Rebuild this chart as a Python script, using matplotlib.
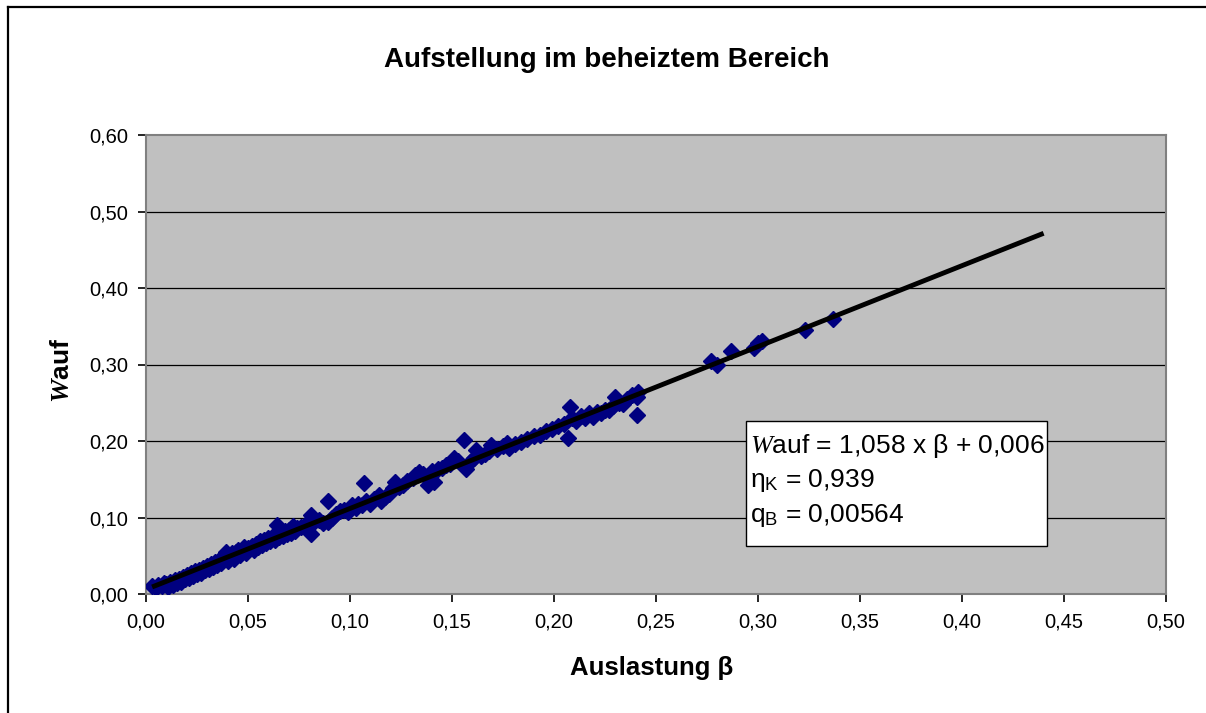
import numpy as np
import matplotlib
matplotlib.use("Agg")
import matplotlib.pyplot as plt
from matplotlib.lines import Line2D
from matplotlib.patches import Rectangle
from matplotlib.ticker import FuncFormatter

plt.rcParams['font.family'] = ['Liberation Sans', 'DejaVu Sans']
plt.rcParams['mathtext.fontset'] = 'custom'
plt.rcParams['mathtext.rm'] = 'Liberation Sans'
plt.rcParams['mathtext.it'] = 'Liberation Serif:italic'
plt.rcParams['mathtext.bf'] = 'Liberation Sans:bold'
plt.rcParams['mathtext.bfit'] = 'Liberation Serif:italic:bold'

# measured points: Auslastung beta vs. W_auf
beta = [0.003, 0.005, 0.006, 0.008, 0.009, 0.010, 0.011, 0.012, 0.013, 0.014,
        0.015, 0.016, 0.017, 0.018, 0.019, 0.020, 0.021, 0.022, 0.023, 0.024,
        0.025, 0.026, 0.027, 0.028, 0.029, 0.030, 0.031, 0.032, 0.033, 0.034,
        0.035, 0.036, 0.037, 0.038, 0.039, 0.040, 0.041, 0.042, 0.043, 0.044,
        0.045, 0.046, 0.047, 0.048, 0.049, 0.050, 0.052, 0.053, 0.054, 0.055,
        0.056, 0.057, 0.058, 0.059, 0.060, 0.061, 0.062, 0.063, 0.064, 0.064,
        0.065, 0.066, 0.067, 0.068, 0.069, 0.070, 0.071, 0.072, 0.073, 0.074,
        0.076, 0.078, 0.080, 0.081, 0.081, 0.083, 0.085, 0.087, 0.089, 0.089,
        0.091, 0.093, 0.095, 0.097, 0.099, 0.100, 0.101, 0.103, 0.104, 0.106,
        0.107, 0.108, 0.110, 0.112, 0.114, 0.115, 0.117, 0.119, 0.121, 0.122,
        0.124, 0.126, 0.128, 0.131, 0.132, 0.134, 0.136, 0.138, 0.139, 0.140,
        0.141, 0.143, 0.145, 0.147, 0.149, 0.151, 0.153, 0.156, 0.157, 0.159,
        0.161, 0.162, 0.164, 0.166, 0.168, 0.169, 0.172, 0.175, 0.177, 0.178,
        0.181, 0.184, 0.187, 0.190, 0.193, 0.196, 0.199, 0.202, 0.205, 0.207,
        0.208, 0.209, 0.211, 0.213, 0.215, 0.217, 0.219, 0.221, 0.223, 0.225,
        0.227, 0.229, 0.230, 0.232, 0.234, 0.236, 0.238, 0.2405, 0.2405, 0.241,
        0.277, 0.280, 0.287, 0.298, 0.300, 0.302, 0.323, 0.337]
w_auf = [0.010, 0.008, 0.012, 0.011, 0.015, 0.013, 0.009, 0.016, 0.012, 0.018,
         0.014, 0.020, 0.016, 0.022, 0.019, 0.025, 0.021, 0.027, 0.023, 0.030,
         0.026, 0.032, 0.028, 0.034, 0.031, 0.036, 0.033, 0.039, 0.035, 0.042,
         0.038, 0.044, 0.040, 0.047, 0.055, 0.043, 0.050, 0.053, 0.046, 0.055,
         0.058, 0.051, 0.057, 0.061, 0.054, 0.060, 0.063, 0.058, 0.066, 0.062,
         0.069, 0.064, 0.070, 0.067, 0.073, 0.069, 0.075, 0.071, 0.077, 0.090,
         0.074, 0.080, 0.076, 0.082, 0.078, 0.084, 0.080, 0.089, 0.083, 0.086,
         0.088, 0.090, 0.093, 0.103, 0.079, 0.095, 0.097, 0.093, 0.122, 0.094,
         0.100, 0.104, 0.108, 0.110, 0.107, 0.112, 0.116, 0.113, 0.118, 0.116,
         0.145, 0.121, 0.118, 0.124, 0.129, 0.122, 0.127, 0.131, 0.138, 0.146,
         0.140, 0.142, 0.148, 0.152, 0.156, 0.159, 0.157, 0.143, 0.151, 0.161,
         0.147, 0.163, 0.165, 0.168, 0.170, 0.178, 0.174, 0.201, 0.163, 0.172,
         0.178, 0.188, 0.180, 0.183, 0.187, 0.195, 0.190, 0.193, 0.197, 0.191,
         0.196, 0.199, 0.202, 0.207, 0.208, 0.213, 0.216, 0.219, 0.222, 0.2035,
         0.245, 0.230, 0.226, 0.233, 0.230, 0.236, 0.232, 0.238, 0.236, 0.241,
         0.240, 0.246, 0.258, 0.250, 0.248, 0.255, 0.260, 0.258, 0.234, 0.264,
         0.304, 0.300, 0.317, 0.321, 0.328, 0.331, 0.345, 0.360]

# regression line
slope = 1.058
intercept = 0.006
line_x = [0.003, 0.44]

fig = plt.figure(figsize=(12.06, 7.13), dpi=100)
ax = fig.add_axes([146 / 1206, 119 / 713, 1020 / 1206, 459 / 713])
ax.set_facecolor('#C0C0C0')

ax.set_xlim(0, 0.5)
ax.set_ylim(0, 0.6)
ax.set_xticks(np.arange(0, 0.501, 0.05))
ax.set_yticks(np.arange(0, 0.601, 0.1))
fmt = FuncFormatter(lambda v, p: f"{v:.2f}".replace('.', ','))
ax.xaxis.set_major_formatter(fmt)
ax.yaxis.set_major_formatter(fmt)
ax.tick_params(direction='out', length=6, width=1.2, colors='black',
               labelsize=14.5, pad=7)

for y in [0.1, 0.2, 0.3, 0.4, 0.5]:
    ax.axhline(y, color='black', lw=0.9, zorder=1)
for s in ax.spines.values():
    s.set_color('#808080')
    s.set_linewidth(1.5)

ax.plot(beta, w_auf, linestyle='none', marker='D', ms=8.5,
        color='#000080', zorder=3)
ax.plot(line_x, [slope * x + intercept for x in line_x], color='black',
        lw=3.5, zorder=4, solid_capstyle='butt')

# equation box
ax.add_patch(Rectangle((0.294, 0.0627), 0.1477, 0.1634, facecolor='white',
                       edgecolor='black', lw=1, zorder=5))
ax.text(0.296, 0.193, r"$\mathit{W}$auf = 1,058 x β + 0,006", fontsize=19,
        va='center', ha='left', zorder=6)
ax.text(0.296, 0.148, r"η$_\mathrm{K}$ = 0,939", fontsize=19,
        va='center', ha='left', zorder=6)
ax.text(0.296, 0.103, r"q$_\mathrm{B}$ = 0,00564", fontsize=19,
        va='center', ha='left', zorder=6)

fig.text(607 / 1206, 1 - 60 / 713, "Aufstellung im beheiztem Bereich",
         ha='center', va='center', fontsize=20, fontweight='bold')
fig.text(652 / 1206, 1 - 668 / 713, "Auslastung β", ha='center', va='center',
         fontsize=18.5, fontweight='bold')
fig.text(62 / 1206, 1 - 370 / 713, r"$\mathbfit{W}$auf", ha='center',
         va='center', rotation=90, fontsize=19, fontweight='bold')

# outer chart border
fig.add_artist(Line2D([8 / 1206, 8 / 1206], [1 - 7 / 713, -0.1],
                      color='black', lw=1.6))
fig.add_artist(Line2D([8 / 1206, 1.1], [1 - 7 / 713, 1 - 7 / 713],
                      color='black', lw=1.6))

fig.savefig("out.png", dpi=100)
